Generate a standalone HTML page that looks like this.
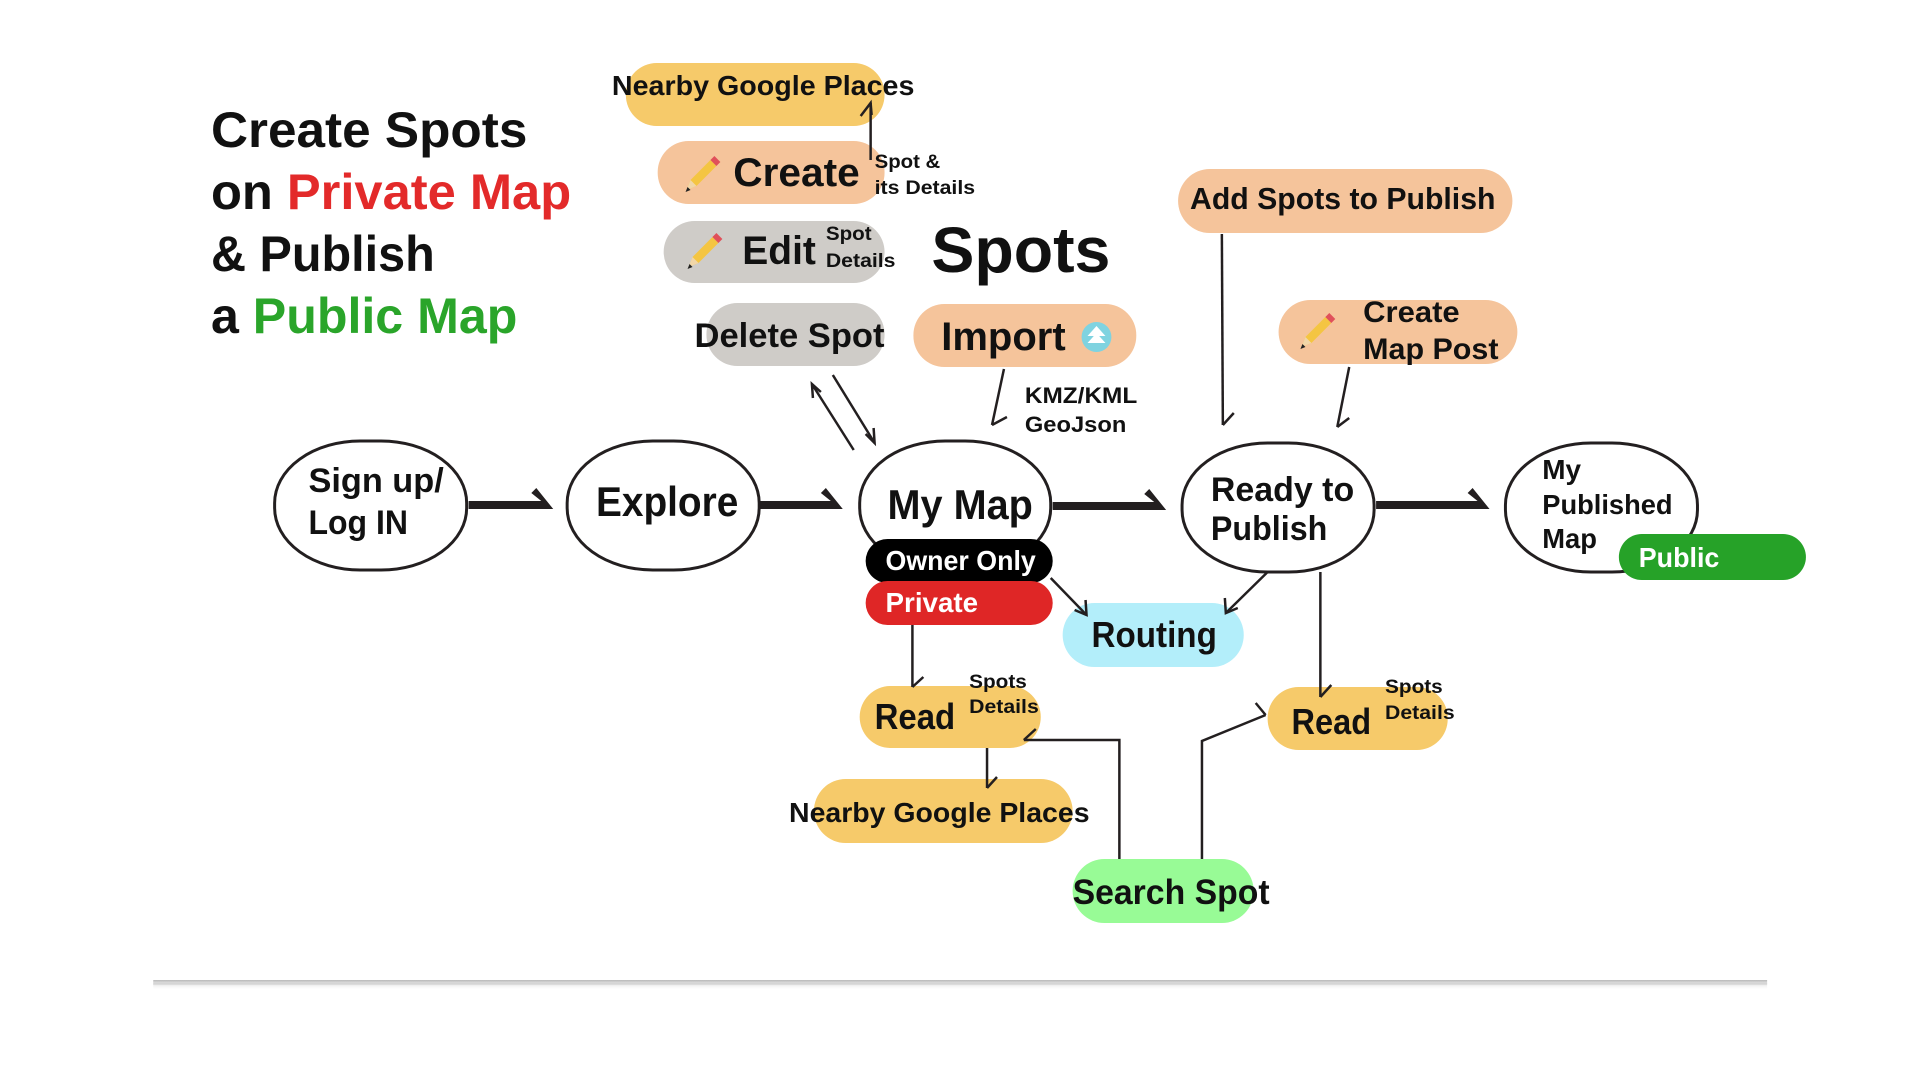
<!DOCTYPE html>
<html><head><meta charset="utf-8"><style>
html,body{margin:0;padding:0;background:#fff;}
svg{display:block}
text{font-family:"Liberation Sans",sans-serif;font-weight:bold;fill:#111;}
</style></head><body>
<svg width="1920" height="1080" viewBox="0 0 1920 1080" xmlns="http://www.w3.org/2000/svg">
<defs>
<linearGradient id="sh" x1="0" y1="0" x2="0" y2="1">
<stop offset="0" stop-color="#999" stop-opacity="0.7"/><stop offset="1" stop-color="#fff" stop-opacity="0"/></linearGradient>
<g id="pencil">
<polygon points="-14,16 -10,6 10,-14 16,-8 -4,12" fill="#f4c542"/>
<polygon points="10,-14 14,-18 20,-12 16,-8" fill="#e0505a"/>
<polygon points="-14,16 -10,6 -4,12" fill="#f1d6a8"/>
<polygon points="-15,18 -13,13 -10,16" fill="#222"/>
</g>
</defs>
<g transform="scale(0.995 1)">
<rect x="154" y="980" width="1622" height="10" fill="url(#sh)"/>
<line x1="154" y1="984" x2="1776" y2="984" stroke="#ccc" stroke-width="1"/>

<text x="212" y="147" font-size="50" textLength="318" lengthAdjust="spacingAndGlyphs">Create Spots</text>
<text x="212" y="209" font-size="50" textLength="362" lengthAdjust="spacingAndGlyphs">on <tspan fill="#e32a2a">Private Map</tspan></text>
<text x="212" y="271" font-size="50" textLength="225" lengthAdjust="spacingAndGlyphs">&amp; Publish</text>
<text x="212" y="333" font-size="50" textLength="308" lengthAdjust="spacingAndGlyphs">a <tspan fill="#2aa52a">Public Map</tspan></text>

<rect x="629" y="63" width="260" height="63" rx="31" fill="#f6ca6a"/>
<rect x="661" y="141" width="228" height="63" rx="31" fill="#f5c49b"/>
<rect x="667" y="221" width="222" height="62" rx="31" fill="#cfccc8"/>
<rect x="710" y="303" width="179" height="63" rx="31" fill="#cfccc8"/>
<rect x="918" y="304" width="224" height="63" rx="31" fill="#f5c49b"/>
<rect x="1184" y="169" width="336" height="64" rx="32" fill="#f5c49b"/>
<rect x="1285" y="300" width="240" height="64" rx="32" fill="#f5c49b"/>
<rect x="1068" y="603" width="182" height="64" rx="32" fill="#b3eefa"/>
<rect x="864" y="686" width="182" height="62" rx="31" fill="#f6ca6a"/>
<rect x="1274" y="687" width="181" height="63" rx="31" fill="#f6ca6a"/>
<rect x="818" y="779" width="260" height="64" rx="32" fill="#f6ca6a"/>
<rect x="1078" y="859" width="182" height="64" rx="32" fill="#98fb96"/>

<use href="#pencil" x="704" y="174"/>
<use href="#pencil" x="706" y="251"/>
<use href="#pencil" x="1322" y="331"/>
<circle cx="1102" cy="337" r="15" fill="#7fd3e0"/>
<polygon points="1102,326 1111,336 1093,336" fill="#fff"/>
<polygon points="1102,333 1111,343 1093,343" fill="#fff"/>

<g fill="#fff" stroke="#231f20" stroke-width="3">
<rect x="276" y="441" width="193" height="129" rx="86" ry="62"/>
<rect x="570" y="441" width="193" height="129" rx="86" ry="62"/>
<rect x="864" y="441" width="192" height="129" rx="86" ry="62"/>
<rect x="1188" y="443" width="193" height="129" rx="86" ry="62"/>
<rect x="1513" y="443" width="193" height="129" rx="86" ry="62"/>
</g>
<rect x="870" y="539" width="188" height="44" rx="22" fill="#000"/>
<rect x="870" y="581" width="188" height="44" rx="22" fill="#df2626"/>
<rect x="1627" y="534" width="188" height="46" rx="23" fill="#26a228"/>

<g fill="#231f20">
<polygon points="471,501 544,501 534,493 539,488 556,509 471,509"/>
<polygon points="763,501 835,501 825,493 830,488 847,509 763,509"/>
<polygon points="1058,502 1160,502 1150,494 1155,489 1172,510 1058,510"/>
<polygon points="1383,501 1485,501 1475,493 1480,488 1497,509 1383,509"/>
</g>

<g fill="none" stroke="#231f20" stroke-width="2.5">
<polyline points="875,160 875,103"/><polyline points="865,116 875,103 876,115"/>
<line x1="837" y1="375" x2="879" y2="443"/><polyline points="878,428 879,443 870,434"/>
<line x1="816" y1="384" x2="858" y2="450"/><polyline points="817,398 816,384 825,392"/>
<line x1="1009" y1="369" x2="997" y2="425"/><polyline points="997,425 1012,417"/>
<line x1="1228" y1="234" x2="1229" y2="425"/><polyline points="1229,425 1240,413"/>
<line x1="1356" y1="367" x2="1344" y2="427"/><polyline points="1344,427 1356,418"/>
<line x1="1056" y1="578" x2="1092" y2="615"/><polyline points="1091,600 1092,615 1080,610"/>
<line x1="1274" y1="572" x2="1232" y2="613"/><polyline points="1231,598 1232,613 1244,608"/>
<line x1="917" y1="625" x2="917" y2="687"/><polyline points="917,687 928,677"/>
<line x1="1327" y1="572" x2="1327" y2="697"/><polyline points="1327,697 1338,685"/>
<line x1="992" y1="748" x2="992" y2="788"/><polyline points="992,788 1002,777"/>
<polyline points="1125,859 1125,740 1029,740"/><polyline points="1041,729 1029,740"/>
<polyline points="1208,859 1208,741 1272,715"/><polyline points="1262,703 1272,715"/>
</g>

<text x="615" y="95" font-size="28" textLength="304" lengthAdjust="spacingAndGlyphs">Nearby Google Places</text>
<text x="737" y="186" font-size="40" textLength="127" lengthAdjust="spacingAndGlyphs">Create</text>
<text x="879" y="168" font-size="19" textLength="66" lengthAdjust="spacingAndGlyphs">Spot &amp;</text>
<text x="879" y="194" font-size="19" textLength="101" lengthAdjust="spacingAndGlyphs">its Details</text>
<text x="746" y="264" font-size="40" textLength="74" lengthAdjust="spacingAndGlyphs">Edit</text>
<text x="830" y="240" font-size="19" textLength="46" lengthAdjust="spacingAndGlyphs">Spot</text>
<text x="830" y="267" font-size="19" textLength="70" lengthAdjust="spacingAndGlyphs">Details</text>
<text x="936" y="272" font-size="64" textLength="180" lengthAdjust="spacingAndGlyphs">Spots</text>
<text x="698" y="347" font-size="34" textLength="191" lengthAdjust="spacingAndGlyphs">Delete Spot</text>
<text x="946" y="350" font-size="40" textLength="125" lengthAdjust="spacingAndGlyphs">Import</text>
<text x="1030" y="403" font-size="22" textLength="113" lengthAdjust="spacingAndGlyphs">KMZ/KML</text>
<text x="1030" y="432" font-size="22" textLength="102" lengthAdjust="spacingAndGlyphs">GeoJson</text>
<text x="1196" y="209" font-size="31" textLength="307" lengthAdjust="spacingAndGlyphs">Add Spots to Publish</text>
<text x="1370" y="322" font-size="30" textLength="97" lengthAdjust="spacingAndGlyphs">Create</text>
<text x="1370" y="359" font-size="30" textLength="136" lengthAdjust="spacingAndGlyphs">Map Post</text>
<text x="310" y="492" font-size="34" textLength="136" lengthAdjust="spacingAndGlyphs">Sign up/</text>
<text x="310" y="534" font-size="34" textLength="100" lengthAdjust="spacingAndGlyphs">Log IN</text>
<text x="599" y="516" font-size="42" textLength="143" lengthAdjust="spacingAndGlyphs">Explore</text>
<text x="892" y="519" font-size="42" textLength="146" lengthAdjust="spacingAndGlyphs">My Map</text>
<text x="1217" y="501" font-size="34" textLength="144" lengthAdjust="spacingAndGlyphs">Ready to</text>
<text x="1217" y="540" font-size="34" textLength="117" lengthAdjust="spacingAndGlyphs">Publish</text>
<text x="1550" y="479" font-size="28" textLength="39" lengthAdjust="spacingAndGlyphs">My</text>
<text x="1550" y="514" font-size="28" textLength="131" lengthAdjust="spacingAndGlyphs">Published</text>
<text x="1550" y="548" font-size="28" textLength="55" lengthAdjust="spacingAndGlyphs">Map</text>
<text x="890" y="570" font-size="28" style="fill:#fff" textLength="151" lengthAdjust="spacingAndGlyphs">Owner Only</text>
<text x="890" y="612" font-size="28" style="fill:#fff" textLength="93" lengthAdjust="spacingAndGlyphs">Private</text>
<text x="1647" y="567" font-size="28" style="fill:#fff" textLength="81" lengthAdjust="spacingAndGlyphs">Public</text>
<text x="1097" y="647" font-size="36" textLength="126" lengthAdjust="spacingAndGlyphs">Routing</text>
<text x="879" y="729" font-size="36" textLength="81" lengthAdjust="spacingAndGlyphs">Read</text>
<text x="974" y="688" font-size="19" textLength="58" lengthAdjust="spacingAndGlyphs">Spots</text>
<text x="974" y="713" font-size="19" textLength="70" lengthAdjust="spacingAndGlyphs">Details</text>
<text x="1298" y="734" font-size="36" textLength="80" lengthAdjust="spacingAndGlyphs">Read</text>
<text x="1392" y="693" font-size="19" textLength="58" lengthAdjust="spacingAndGlyphs">Spots</text>
<text x="1392" y="719" font-size="19" textLength="70" lengthAdjust="spacingAndGlyphs">Details</text>
<text x="793" y="822" font-size="28" textLength="302" lengthAdjust="spacingAndGlyphs">Nearby Google Places</text>
<text x="1078" y="904" font-size="35" textLength="198" lengthAdjust="spacingAndGlyphs">Search Spot</text>
</g>
</svg>
</body></html>
